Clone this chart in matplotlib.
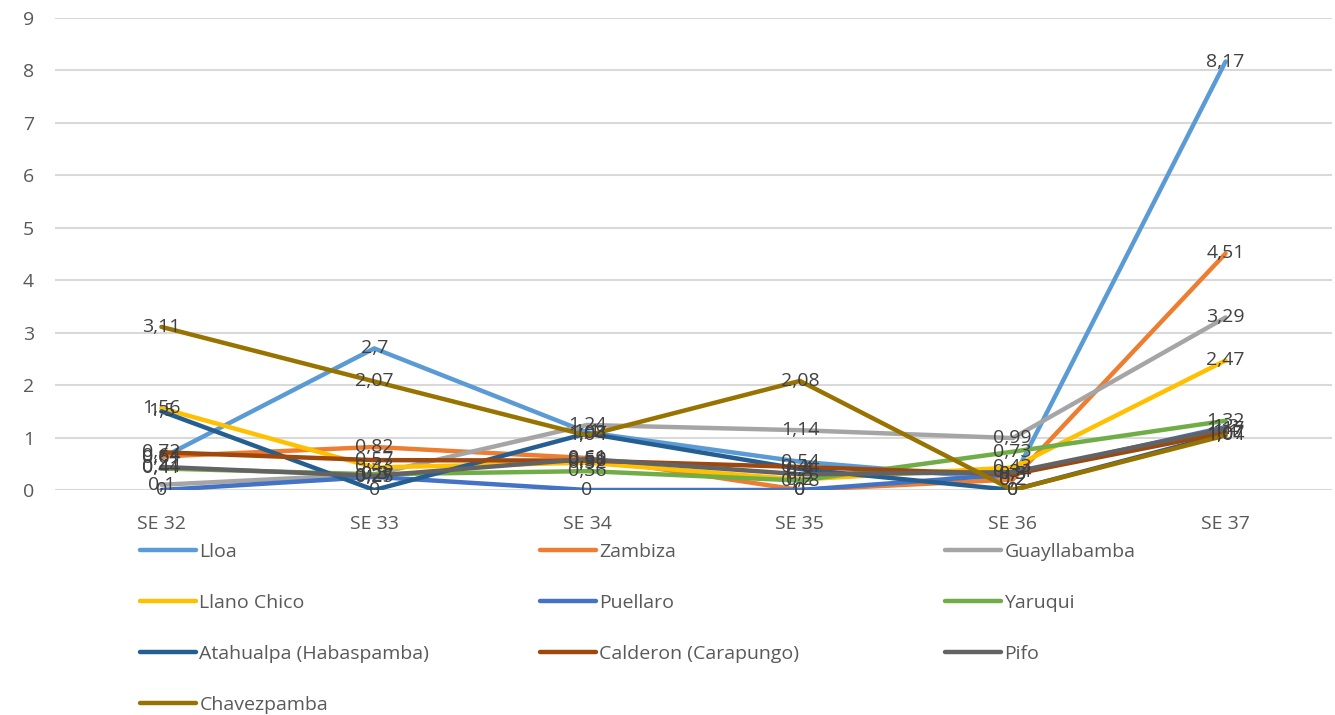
import numpy as np
import matplotlib
matplotlib.use("Agg")
import matplotlib.pyplot as plt
from matplotlib.lines import Line2D

weeks = ["SE 32", "SE 33", "SE 34", "SE 35", "SE 36", "SE 37"]

lloa = [0.61, 2.7, 1.1, 0.54, 0.2, 8.17]
zambiza = [0.64, 0.82, 0.61, 0, 0.2, 4.51]
guayllabamba = [0.1, 0.3, 1.24, 1.14, 0.99, 3.29]
llano_chico = [1.56, 0.43, 0.52, 0.2, 0.43, 2.47]
puellaro = [0, 0.25, 0, 0, 0.3, 1.2]
yaruqui = [0.41, 0.3, 0.36, 0.18, 0.73, 1.32]
atahualpa = [1.5, 0, 1.08, 0.4, 0, 1.07]
calderon = [0.72, 0.57, 0.56, 0.44, 0.3, 1.1]
pifo = [0.44, 0.27, 0.59, 0.3, 0.34, 1.17]
chavezpamba = [3.11, 2.07, 1.04, 2.08, 0, 1.04]

series = [
    ("Lloa", lloa, "#5B9BD5"),
    ("Zambiza", zambiza, "#ED7D31"),
    ("Guayllabamba", guayllabamba, "#A5A5A5"),
    ("Llano Chico", llano_chico, "#FFC000"),
    ("Puellaro", puellaro, "#4472C4"),
    ("Yaruqui", yaruqui, "#70AD47"),
    ("Atahualpa (Habaspamba)", atahualpa, "#255E91"),
    ("Calderon (Carapungo)", calderon, "#9E480E"),
    ("Pifo", pifo, "#636363"),
    ("Chavezpamba", chavezpamba, "#997300"),
]

def fmt(v):
    if v == int(v):
        return str(int(v))
    return ("%g" % v).replace(".", ",")

plt.rcParams['font.family'] = ['Open Sans', 'DejaVu Sans']

fig = plt.figure(figsize=(13.35, 7.15), dpi=100)
ax = fig.add_axes([55 / 1335, 1 - 490 / 715, 1277 / 1335, 472 / 715])

x = np.arange(len(weeks))
for name, vals, col in series:
    ax.plot(x, vals, color=col, lw=3.2, solid_capstyle='round', solid_joinstyle='round', zorder=3)
for name, vals, col in series:
    for xi, v in zip(x, vals):
        ax.text(xi, v, fmt(v), ha='center', va='center', fontsize=14, color='#404040', zorder=4)

ax.set_xlim(-0.5, len(weeks) - 0.5)
ax.set_ylim(0, 9)
ax.set_yticks(range(0, 10))
ax.set_xticks(x)
ax.set_xticklabels(weeks)
ax.grid(axis='y', color='#D9D9D9', lw=1.5, zorder=0)
for s in ax.spines.values():
    s.set_visible(False)
ax.tick_params(length=0, labelsize=14, colors='#595959')
ax.tick_params(axis='y', pad=15)
ax.tick_params(axis='x', pad=18)

# legend in three columns placed under the plot
col_x = [140, 540, 945]
for c in range(3):
    items = series[c::3]
    handles = [Line2D([], [], color=col, lw=3.2, solid_capstyle='round') for _, _, col in items]
    labels = [name for name, _, _ in items]
    fig.legend(handles, labels, loc='upper left',
               bbox_to_anchor=(col_x[c] / 1335, 1 - 543 / 715),
               frameon=False, fontsize=14, handlelength=2.9,
               handletextpad=0.15, labelspacing=1.7, borderaxespad=0,
               borderpad=0, labelcolor='#595959')

fig.savefig("out.png", dpi=100)
